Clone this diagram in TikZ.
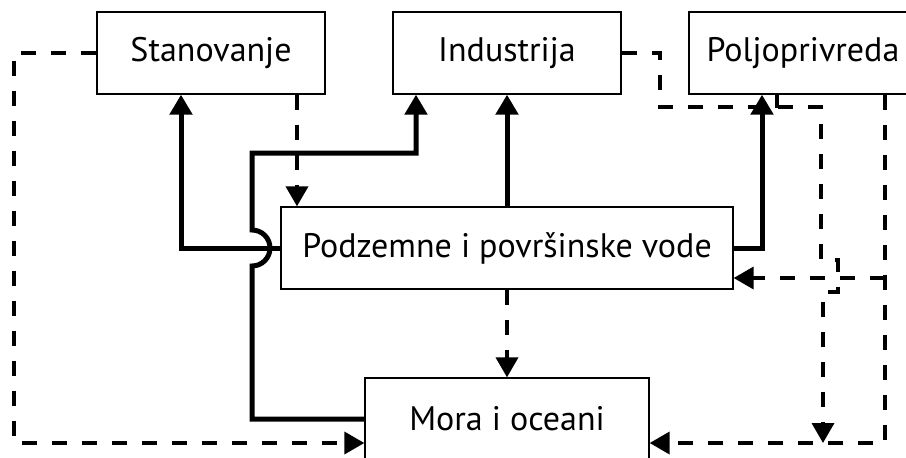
\documentclass[tikz,border=0pt]{standalone}
\usepackage{fontspec}
\setmainfont{PT Sans}
\usetikzlibrary{arrows.meta}

\begin{document}
\begin{tikzpicture}[x=0.5pt, y=-0.5pt, node distance=148pt, auto,
    box/.style={rectangle, draw, line width=0.65pt, text centered, minimum height=41pt, minimum width=114pt, font=\fontsize{17pt}{20pt}\selectfont},
    intake/.style={line width=2.5pt, -{Triangle[width=11pt, length=10pt]}},
    outflow/.style={line width=1.8pt, dash pattern=on 7.5pt off 7.5pt, -{Triangle[width=11pt, length=10pt]}}]

    \useasboundingbox (0,0) rectangle (906,457);

    % users on top, waters below
    \node (stan) [box] at (211,53) {Stanovanje};
    \node (ind) [box, right of=stan] {Industrija};
    \node (polj) [box, right of=ind] {Poljoprivreda};
    \node (voda) [box, below of=ind, yshift=50.5pt, minimum width=226pt] {Podzemne i površinske vode};
    \node (mora) [box, below of=voda, yshift=62.5pt, minimum width=142pt] {Mora i oceani};

    % water taken (solid)
    \draw[intake] (voda.west) -| ([xshift=-15pt]stan.south);
    \draw[intake] (mora.west) -| (252,266) arc[start angle=90, end angle=-90, radius=18] -- (252,153) -| ([xshift=-45.5pt]ind.south);
    \draw[intake] (voda.north) -- (voda.north |- ind.south);
    \draw[intake] (voda.east) -| ([xshift=-20.5pt]polj.south);

    % water returned (dashed)
    \draw[outflow] (stan.west) -- (14,53) |- ([yshift=-12pt]mora.west);
    \draw[outflow] ([xshift=43pt]stan.south) -- ([xshift=43pt]stan.south |- voda.north);
    \draw[outflow] (voda.south) -- (mora.north);
    \coordinate (join) at (823,443);
    \draw[outflow] (ind.east) -- (660,53) -- (660,107) -- (821,107) -- (821,260) -- (838,260) -- (838,292) -- (823,292) -- (join);
    \draw[outflow, -] ([xshift=-13pt]polj.south) -- ++(0,13);
    \draw[outflow] ([xshift=41pt]polj.south) |- ([yshift=-12pt]mora.east);
    \coordinate (fork) at (885,278);
    \draw[outflow] (fork) -- ([yshift=-15pt]voda.east);

\end{tikzpicture}
\end{document}
